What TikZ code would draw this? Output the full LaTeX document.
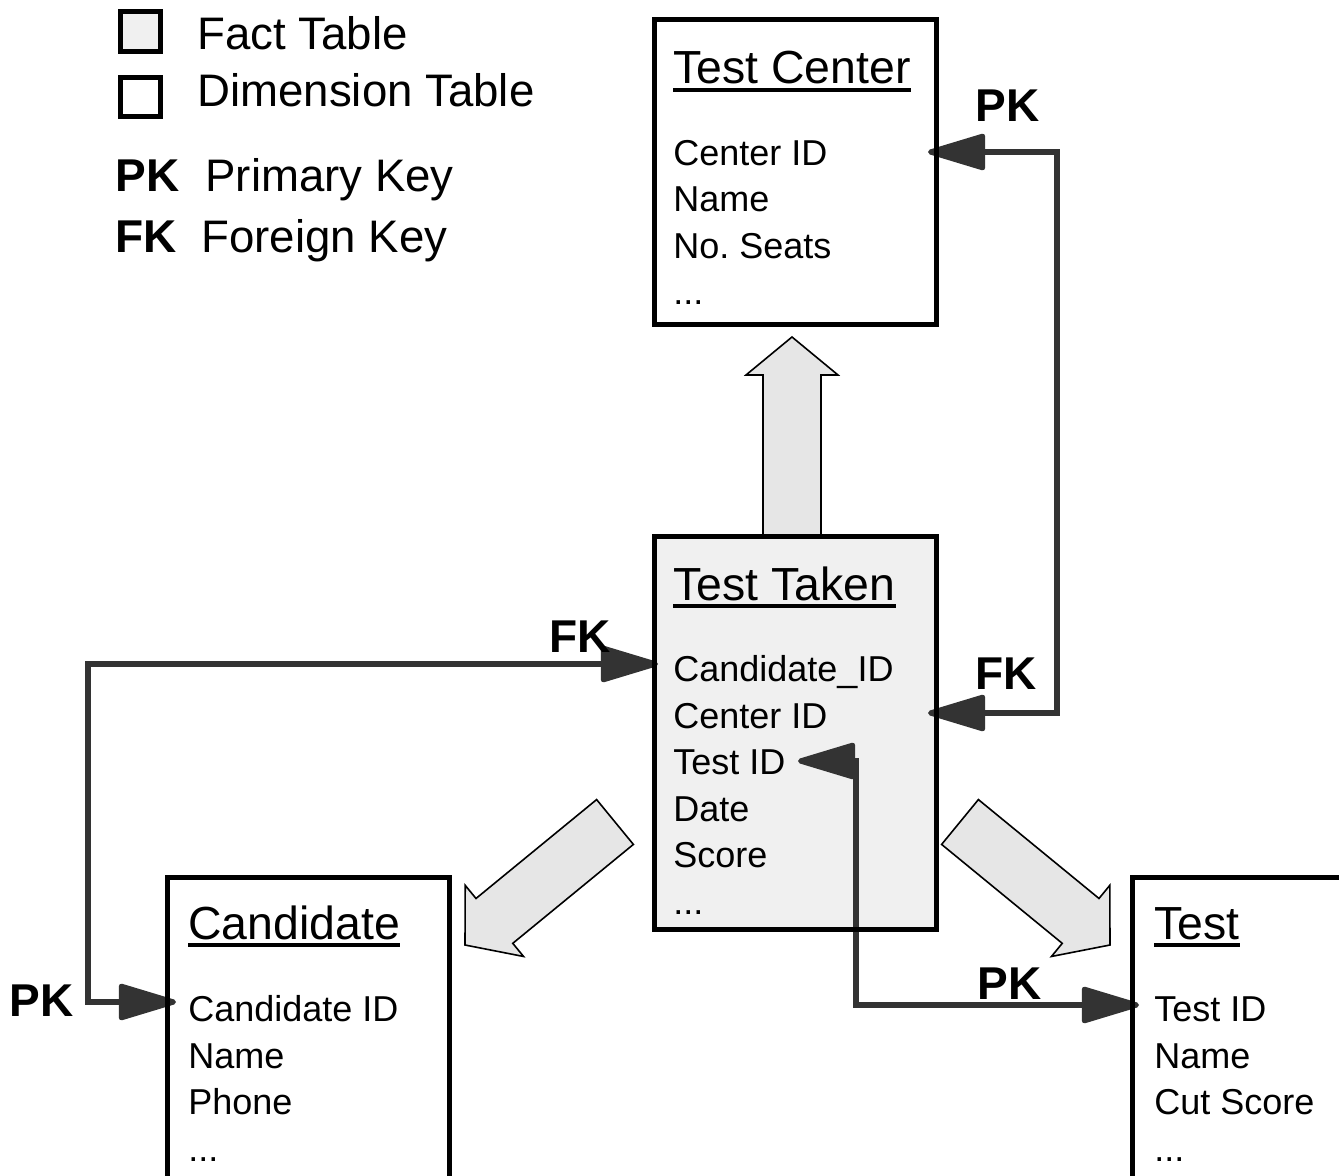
\documentclass[tikz,border=0pt]{standalone}
\usepackage{fontspec}
\setmainfont{Liberation Sans}
\usetikzlibrary{arrows.meta,calc}
\definecolor{factfill}{HTML}{F0F0F0}
\definecolor{blockfill}{HTML}{E6E6E6}
\definecolor{conncol}{HTML}{333333}
\frenchspacing
\tikzset{ahead/.tip={Triangle[length=32pt,width=18.5pt,round]}}
\newcommand\blockarr[3]{%
  \coordinate (#3h) at ($(#2)!19pt!(#1)$);
  \draw[blk] ($(#1)!14.5pt!90:(#2)$) -- ($(#3h)!14.5pt!90:(#2)$) -- ($(#3h)!23pt!90:(#2)$) -- (#2)
    -- ($(#3h)!23pt!-90:(#2)$) -- ($(#3h)!14.5pt!-90:(#2)$) -- ($(#1)!14.5pt!-90:(#2)$) -- cycle;
}
\begin{document}
\begin{tikzpicture}[x=0.5pt,y=-0.5pt,
  tbox/.style={draw=black, line width=2.5pt, anchor=north west, inner sep=0pt, outer sep=0pt},
  fact/.style={tbox, fill=factfill},
  dim/.style={tbox, fill=white},
  border/.style={draw=black, line width=2.5pt},
  ttl/.style={anchor=base west, inner sep=0pt, font=\fontsize{23.2}{27}\selectfont},
  row/.style={anchor=base west, inner sep=0pt, font=\fontsize{18}{21}\selectfont},
  key/.style={anchor=base west, inner sep=0pt, font=\fontsize{23}{27}\selectfont\bfseries},
  leg/.style={anchor=base west, inner sep=0pt, font=\fontsize{22.8}{27}\selectfont},
  conn/.style={draw=conncol, line width=2.6pt, ahead-ahead},
  ulin/.style={line width=1.8pt},
  blk/.style={draw=black, line width=0.8pt, fill=blockfill, line join=miter}
]
\useasboundingbox (0,0) rectangle (1339,1176);
\clip (0,0) rectangle (1339,1176);

% legend
\node[fact, minimum width=20pt, minimum height=20pt] (legf) at (120.5,11.5) {};
\node[dim, minimum width=20pt, minimum height=19.5pt] (legd) at (120.5,77.5) {};
\node[leg] (legft) at (197,50) {Fact Table};
\node[leg] (legdt) at (197,107) {Dimension Table};
\node[key] (legpk) at (115,192) {PK};
\node[leg] (legpkt) at (205,192) {Primary Key};
\node[key] (legfk) at (115,253) {FK};
\node[leg] (legfkt) at (201,253) {Foreign Key};

% block arrows
\coordinate (uaT) at (792,537); \coordinate (uaP) at (792,337);
\coordinate (dlT) at (615,822); \coordinate (dlP) at (465,945);
\coordinate (drT) at (960,822); \coordinate (drP) at (1110,945);
\blockarr{uaT}{uaP}{ua}
\blockarr{dlT}{dlP}{dl}
\blockarr{drT}{drP}{dr}

% boxes
\node[dim, minimum width=141pt, minimum height=152.5pt] (tc) at (654,20) {};
\node[fact, minimum width=141pt, minimum height=196pt] (tt) at (654,537) {};
\node[dim, minimum width=141pt, minimum height=200pt] (ca) at (167.5,877.5) {};
\node[dim, minimum width=150pt, minimum height=200pt] (te) at (1132.5,877.5) {};

% Test Center
\node[ttl] (tc-t) at (673,84) {Test Center};
\draw[ulin] ($(tc-t.base west)+(0,6)$) -- ($(tc-t.base east)+(0,6)$);
\node[row] (tc-1) at (673,165.5) {Center ID};
\node[row] (tc-2) at (673,212) {Name};
\node[row] (tc-3) at (673,258.5) {No. Seats};
\node[row] (tc-4) at (673,305) {...};

% Test Taken
\node[ttl] (tt-t) at (673,600) {Test Taken};
\draw[ulin] ($(tt-t.base west)+(0,6)$) -- ($(tt-t.base east)+(0,6)$);
\node[row] (tt-1) at (673,681.5) {Candidate\_ID};
\node[row] (tt-2) at (673,728) {Center ID};
\node[row] (tt-3) at (673,774.5) {Test ID};
\node[row] (tt-4) at (673,821) {Date};
\node[row] (tt-5) at (673,867.5) {Score};
\node[row] (tt-6) at (673,914) {...};

% Candidate
\node[ttl] (ca-t) at (188,939) {Candidate};
\draw[ulin] ($(ca-t.base west)+(0,6)$) -- ($(ca-t.base east)+(0,6)$);
\node[row] (ca-1) at (188,1021.5) {Candidate ID};
\node[row] (ca-2) at (188,1068) {Name};
\node[row] (ca-3) at (188,1114.5) {Phone};
\node[row] (ca-4) at (188,1161) {...};

% Test
\node[ttl] (te-t) at (1154,939) {Test};
\draw[ulin] ($(te-t.base west)+(0,6)$) -- ($(te-t.base east)+(0,6)$);
\node[row] (te-1) at (1154,1021.5) {Test ID};
\node[row] (te-2) at (1154,1068) {Name};
\node[row] (te-3) at (1154,1114.5) {Cut Score};
\node[row] (te-4) at (1154,1161) {...};

% connectors
\coordinate (tcPK) at (928,152);
\coordinate (ttCen) at (928,713);
\coordinate (ttCand) at (658,664);
\coordinate (caPK) at (176,1002);
\coordinate (ttTest) at (798,761);
\coordinate (teID) at (1139,1005);
\draw[conn] (tcPK) -- ++(129,0) |- (ttCen);
\draw[conn] (caPK) -- ++(-88,0) |- (ttCand);
\draw[conn] (ttTest) -- ++(58,0) |- (teID);

% borders on top
\draw[border] (tc.south west) rectangle (tc.north east);
\draw[border] (tt.south west) rectangle (tt.north east);
\draw[border] (ca.south west) rectangle (ca.north east);
\draw[border] (te.south west) rectangle (te.north east);

% key labels
\node[key] (lpk1) at (975,122) {PK};
\node[key] (lfk1) at (975,689) {FK};
\node[key] (lfk2) at (549,652) {FK};
\node[key] (lpk2) at (9,1016) {PK};
\node[key] (lpk3) at (977,999) {PK};
\end{tikzpicture}
\end{document}
